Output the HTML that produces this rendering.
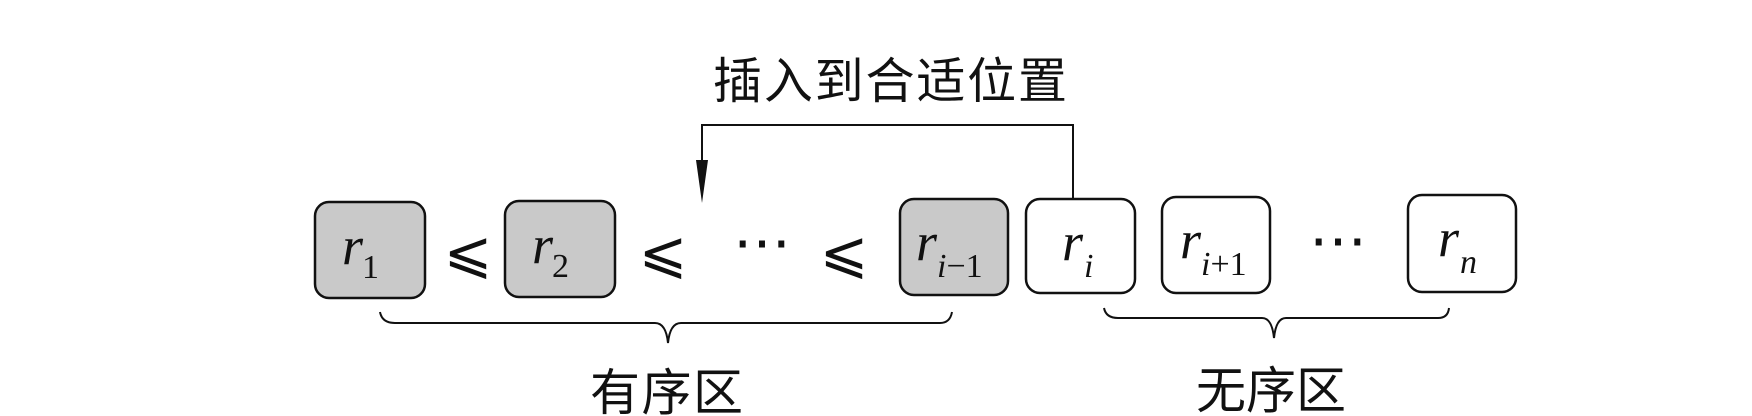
<!DOCTYPE html>
<html><head><meta charset="utf-8"><style>
html,body{margin:0;padding:0;background:#fff;}
svg{display:block}
.m{font-family:"Liberation Serif",serif;font-style:italic;}
.c{font-family:"Liberation Sans","Noto Sans CJK SC",sans-serif;}
</style></head><body>
<svg width="1752" height="416" viewBox="0 0 1752 416" xmlns="http://www.w3.org/2000/svg">
<rect width="1752" height="416" fill="#fff"/>
<g stroke="#111" stroke-width="2.5">
<rect x="315" y="202" width="110" height="96" rx="14" fill="#c9c9c9"/>
<rect x="505" y="201" width="110" height="96" rx="14" fill="#c9c9c9"/>
<rect x="900" y="199" width="108" height="96" rx="14" fill="#c9c9c9"/>
<rect x="1026" y="199" width="109" height="94" rx="14" fill="#fff"/>
<rect x="1162" y="197" width="108" height="96" rx="14" fill="#fff"/>
<rect x="1408" y="195" width="108" height="97" rx="14" fill="#fff"/>
</g>
<g fill="none" stroke="#111" stroke-width="2">
<path d="M1073 199 V125 H702 V170"/>
<path d="M380 312 Q382 323 395 323 H655 Q666 323 668 343 Q670 323 681 323 H940 Q950 323 952 312"/>
<path d="M1104 308 Q1106 318 1118 318 H1262 Q1272 318 1274 338 Q1276 318 1286 318 H1438 Q1448 318 1449 308"/>
</g>
<polygon points="696,160 708,160 702,203" fill="#111"/>
<g class="m" fill="#111">
<text x="342" y="264" font-size="54">r</text><text x="362" y="278" font-size="34" font-style="normal">1</text>
<text x="532" y="263" font-size="54">r</text><text x="552" y="277" font-size="34" font-style="normal">2</text>
<text x="916" y="260" font-size="54">r</text><text x="937" y="277" font-size="34">i<tspan font-style="normal">−1</tspan></text>
<text x="1062" y="260" font-size="54">r</text><text x="1084" y="277" font-size="34">i</text>
<text x="1180" y="258" font-size="54">r</text><text x="1201" y="275" font-size="34">i<tspan font-style="normal">+1</tspan></text>
<text x="1438" y="256" font-size="54">r</text><text x="1460" y="273" font-size="34">n</text>
</g>
<g font-family="Liberation Serif,DejaVu Serif,serif" font-size="58" fill="#111" text-anchor="middle">
<text x="468" y="272">⩽</text>
<text x="663" y="272">⩽</text>
<text x="844" y="272">⩽</text>
<text x="762" y="262">⋯</text>
<text x="1338" y="260">⋯</text>
</g>
<g class="c" fill="#111">
<text x="713" y="98" font-size="49" textLength="354">插入到合适位置</text>
<text x="590" y="410" font-size="50" textLength="153">有序区</text>
<text x="1196" y="408" font-size="50" textLength="150">无序区</text>
</g>
</svg>
</body></html>
